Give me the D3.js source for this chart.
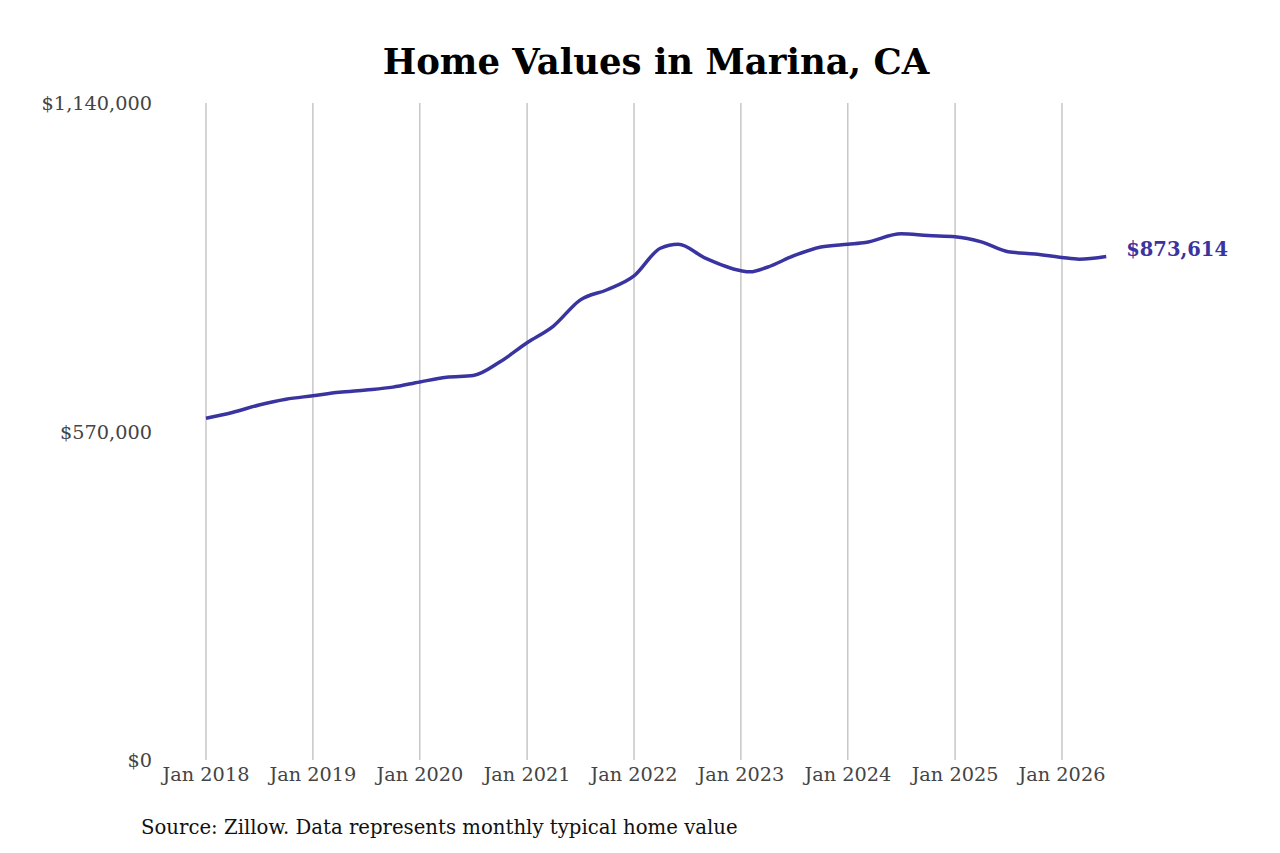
<!DOCTYPE html>
<html>
<head>
<meta charset="utf-8">
<script src="https://cdn.jsdelivr.net/npm/d3@7"></script>
<style>
  body { margin: 0; background: #fff; }
  text { font-family: "DejaVu Serif", serif; }
</style>
</head>
<body>
<svg id="chart" width="1280" height="853"></svg>
<script>
// monthly typical home value
var dates = ["2018-01","2018-04","2018-07","2018-10","2019-01","2019-04","2019-07","2019-10",
             "2020-01","2020-04","2020-07","2020-10","2021-01","2021-04","2021-07","2021-10",
             "2022-01","2022-04","2022-06","2022-09","2023-01","2023-02","2023-04","2023-07","2023-10",
             "2024-01","2024-03","2024-07","2024-10","2025-01","2025-04","2025-07","2025-10",
             "2026-01","2026-03","2026-06"];
var values = [593000,603000,616000,626000,632000,638000,642000,647000,
              656000,664000,667000,691000,724000,753000,798000,816000,
              840000,888000,895000,871000,849000,847000,855000,875000,890000,
              895000,898000,913000,910000,908000,899000,882000,878000,
              872000,869000,873614];
var yTicks = [0, 570000, 1140000];
var xYears = [2018,2019,2020,2021,2022,2023,2024,2025,2026];

var svg = d3.select("#chart");
var parse = d3.timeParse("%Y-%m");
var data = dates.map(function (d, i) { return {date: parse(d), value: values[i]}; });

var x = d3.scaleTime()
    .domain([new Date(2018, 0, 1), new Date(2026, 0, 1)])
    .range([206, 1062]);
var y = d3.scaleLinear().domain([0, 1140000]).range([760, 103]);

svg.append("text")
    .attr("x", 656).attr("y", 74)
    .attr("text-anchor", "middle")
    .style("font-size", "35.5px").style("font-weight", "bold")
    .text("Home Values in Marina, CA");

svg.selectAll("line.grid").data(xYears).enter().append("line")
    .attr("class", "grid")
    .attr("x1", function (d) { return x(new Date(d, 0, 1)); })
    .attr("x2", function (d) { return x(new Date(d, 0, 1)); })
    .attr("y1", 103).attr("y2", 760)
    .attr("stroke", "#aaa").attr("stroke-width", 1);

svg.selectAll("text.xlab").data(xYears).enter().append("text")
    .attr("class", "xlab")
    .attr("x", function (d) { return x(new Date(d, 0, 1)); })
    .attr("y", 781)
    .attr("text-anchor", "middle")
    .style("font-size", "19.3px").attr("fill", "#444")
    .text(function (d) { return "Jan " + d; });

svg.selectAll("text.ylab").data(yTicks).enter().append("text")
    .attr("class", "ylab")
    .attr("x", 152)
    .attr("y", function (d) { return y(d) + 7; })
    .attr("text-anchor", "end")
    .style("font-size", "19.3px").attr("fill", "#444")
    .text(function (d) { return "$" + d3.format(",")(d); });

var line = d3.line()
    .x(function (d) { return x(d.date); })
    .y(function (d) { return y(d.value); })
    .curve(d3.curveMonotoneX);

svg.append("path").datum(data)
    .attr("d", line)
    .attr("fill", "none")
    .attr("stroke", "#3a34a0")
    .attr("stroke-width", 3.5);

var last = data[data.length - 1];
svg.append("text")
    .attr("x", x(last.date) + 20).attr("y", y(last.value) - 1)
    .style("font-size", "19.5px").style("font-weight", "bold")
    .attr("fill", "#3a34a0")
    .text("$" + d3.format(",")(last.value));

svg.append("text")
    .attr("x", 141).attr("y", 834)
    .style("font-size", "19.7px").attr("fill", "#111")
    .text("Source: Zillow. Data represents monthly typical home value");
</script>
</body>
</html>
